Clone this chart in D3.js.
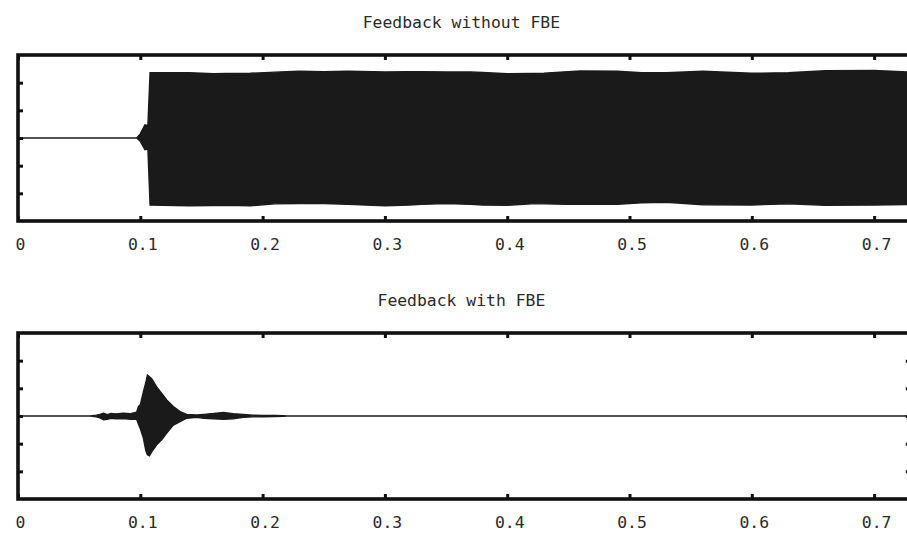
<!DOCTYPE html>
<html>
<head>
<meta charset="utf-8">
<script src="https://cdn.jsdelivr.net/npm/d3@7"></script>
<style>
  html, body { margin: 0; padding: 0; background: #fff; }
  svg { display: block; }
</style>
</head>
<body>
<svg id="chart" width="907" height="535"></svg>
<script>
// ---- data ----
const titles = ["Feedback without FBE", "Feedback with FBE"];
const xTickValues = [0, 0.1, 0.2, 0.3, 0.4, 0.5, 0.6, 0.7];
const xTickLabels = ["0", "0.1", "0.2", "0.3", "0.4", "0.5", "0.6", "0.7"];
const yTickValues = [-2, -1, 0, 1, 2];

// Panel 1: envelope of signal without FBE (time in s, upper/lower amplitude)
const noFbeTime  = [0, 0.097, 0.100, 0.1038, 0.1062, 0.108, 0.14, 0.16, 0.17, 0.19, 0.21, 0.23, 0.25, 0.27, 0.30, 0.32, 0.33, 0.35, 0.37, 0.38, 0.40, 0.42, 0.43, 0.45, 0.46, 0.49, 0.51, 0.53, 0.56, 0.60, 0.63, 0.66, 0.70, 0.73];
const noFbeUpper = [0, 0, 0.15, 0.48, 0.45, 2.36, 2.36, 2.32, 2.33, 2.34, 2.38, 2.41, 2.40, 2.41, 2.39, 2.40, 2.40, 2.39, 2.39, 2.37, 2.32, 2.33, 2.34, 2.40, 2.42, 2.41, 2.36, 2.36, 2.41, 2.34, 2.36, 2.43, 2.44, 2.38];
const noFbeLower = [0, 0, 0.12, 0.42, 0.40, 2.42, 2.45, 2.44, 2.43, 2.45, 2.38, 2.37, 2.37, 2.40, 2.45, 2.42, 2.40, 2.37, 2.40, 2.42, 2.43, 2.38, 2.38, 2.40, 2.40, 2.40, 2.34, 2.32, 2.41, 2.42, 2.38, 2.43, 2.42, 2.40];

// Panel 2: envelope of signal with FBE
const fbeTime  = [0, 0.059, 0.064, 0.067, 0.070, 0.073, 0.076, 0.080, 0.086, 0.092, 0.097, 0.0985, 0.100, 0.1025, 0.1045, 0.1058, 0.1075, 0.1093, 0.1134, 0.1175, 0.1216, 0.127, 0.1325, 0.138, 0.146, 0.152, 0.160, 0.168, 0.176, 0.184, 0.192, 0.200, 0.210, 0.217, 0.220, 0.73];
const fbeUpper = [0, 0, 0.03, 0.06, 0.10, 0.05, 0.09, 0.07, 0.10, 0.08, 0.14, 0.35, 0.40, 0.87, 1.20, 1.48, 1.42, 1.35, 1.05, 0.82, 0.58, 0.34, 0.16, 0.06, 0.04, 0.06, 0.09, 0.13, 0.08, 0.06, 0.03, 0.02, 0.02, 0.01, 0, 0];
const fbeLower = [0, 0, 0.03, 0.07, 0.14, 0.12, 0.08, 0.10, 0.09, 0.12, 0.12, 0.30, 0.45, 0.80, 1.25, 1.40, 1.44, 1.30, 1.04, 0.86, 0.62, 0.33, 0.20, 0.08, 0.05, 0.08, 0.10, 0.12, 0.10, 0.05, 0.03, 0.03, 0.02, 0.01, 0, 0];

// ---- layout ----
const svg = d3.select("#chart");
const left = 18, right = 910.8;
const panels = [
  { top: 55, bottom: 221, title: titles[0], t: noFbeTime, up: noFbeUpper, lo: noFbeLower, titleY: 28, labelY: 250 },
  { top: 333, bottom: 499, title: titles[1], t: fbeTime, up: fbeUpper, lo: fbeLower, titleY: 306, labelY: 528 }
];
const x = d3.scaleLinear().domain([0, 0.73]).range([left, right]);
const font = "'DejaVu Sans Mono', 'Liberation Mono', monospace";
const ink = "#111";

panels.forEach((p, i) => {
  const y = d3.scaleLinear().domain([-3, 3]).range([p.bottom, p.top]);
  const g = svg.append("g");

  g.append("clipPath").attr("id", "clip" + i)
    .append("rect").attr("x", left).attr("y", p.top).attr("width", right - left).attr("height", p.bottom - p.top);

  // inward ticks: x on bottom & top, y on left & right
  const tl = 5;
  const axB = d3.axisBottom(x).tickValues(xTickValues).tickSize(-tl).tickFormat("");
  const axT = d3.axisTop(x).tickValues(xTickValues).tickSize(-tl).tickFormat("");
  const axL = d3.axisLeft(y).tickValues(yTickValues).tickSize(-tl).tickFormat("");
  const axR = d3.axisRight(y).tickValues(yTickValues).tickSize(-tl).tickFormat("");
  [[axB, `translate(0,${p.bottom})`], [axT, `translate(0,${p.top})`], [axL, `translate(${left},0)`], [axR, `translate(${right},0)`]]
    .forEach(([ax, tr]) => {
      const a = g.append("g").attr("transform", tr).call(ax);
      a.select(".domain").remove();
      a.selectAll(".tick line").attr("stroke", ink).attr("stroke-width", 3);
    });

  // signal envelope
  const data = p.t.map((t, k) => ({ t, u: p.up[k], l: p.lo[k] }));
  const area = d3.area().x(d => x(d.t)).y0(d => y(-d.l)).y1(d => y(d.u));
  g.append("path").datum(data)
    .attr("clip-path", `url(#clip${i})`)
    .attr("d", area)
    .attr("fill", "#1a1a1a")
    .attr("stroke", "#1a1a1a")
    .attr("stroke-width", 1.4);

  // frame
  g.append("rect").attr("x", left).attr("y", p.top)
    .attr("width", right - left).attr("height", p.bottom - p.top)
    .attr("fill", "none").attr("stroke", ink).attr("stroke-width", 3.6);

  // tick labels
  g.selectAll("text.xl").data(xTickValues).enter().append("text")
    .attr("class", "xl")
    .attr("x", d => x(d) + 2.5).attr("y", p.labelY)
    .attr("text-anchor", "middle")
    .attr("font-family", font).attr("font-size", 16.4)
    .attr("fill", "#2a2a2a")
    .text((d, k) => xTickLabels[k]);

  // title
  g.append("text")
    .attr("x", (left + right) / 2 - 3).attr("y", p.titleY)
    .attr("text-anchor", "middle")
    .attr("font-family", font).attr("font-size", 16.4)
    .attr("fill", "#2a2a2a")
    .text(p.title);
});
</script>
</body>
</html>
